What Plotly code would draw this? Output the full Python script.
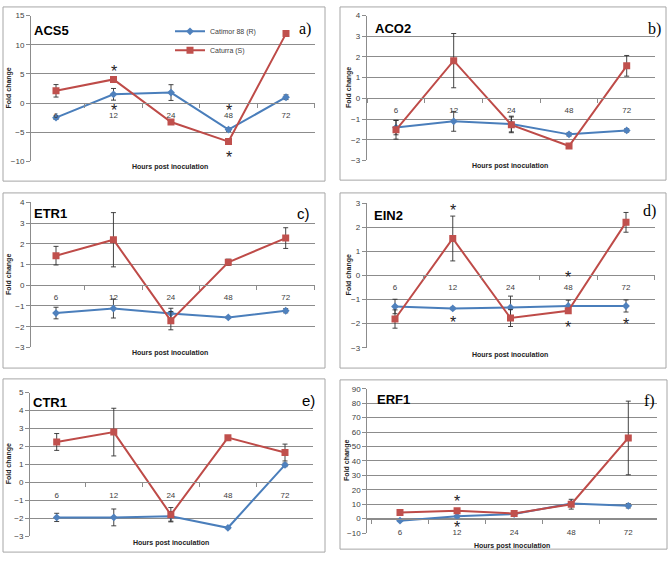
import plotly.graph_objects as go

W, H = 669, 562

hours = ["6", "12", "24", "48", "72"]
genes = ["ACS5", "ACO2", "ETR1", "EIN2", "CTR1", "ERF1"]
panel_letters = ["a)", "b)", "c)", "d)", "e)", "f)"]
series_names = ["Catimor 88 (R)", "Caturra (S)"]

# Catimor 88 (R) - fold change and error
catimor_acs5 = [-2.5, 1.5, 1.8, -4.55, 1.0]
catimor_acs5_err = [0.3, 1.0, 1.35, 0.3, 0.4]
catimor_aco2 = [-1.41, -1.11, -1.24, -1.74, -1.55]
catimor_aco2_err = [0.35, 0.48, 0.38, 0.08, 0.08]
catimor_etr1 = [-1.34, -1.12, -1.36, -1.55, -1.23]
catimor_etr1_err = [0.28, 0.46, 0.25, 0.05, 0.1]
catimor_ein2 = [-1.29, -1.37, -1.33, -1.27, -1.27]
catimor_ein2_err = [0.3, 0.05, 0.47, 0.24, 0.25]
catimor_ctr1 = [-1.96, -1.96, -1.9, -2.54, 0.97]
catimor_ctr1_err = [0.23, 0.47, 0.27, 0.05, 0.1]
catimor_erf1 = [-1.4, 1.6, 3.2, 10.5, 8.9]
catimor_erf1_err = [0.5, 0.5, 0.5, 1.0, 1.5]

# Caturra (S) - fold change and error
caturra_acs5 = [2.1, 4.05, -3.25, -6.6, 11.9]
caturra_acs5_err = [1.07, 0.3, 0.3, 0.3, 0.3]
caturra_aco2 = [-1.52, 1.82, -1.28, -2.3, 1.57]
caturra_aco2_err = [0.45, 1.31, 0.38, 0.1, 0.5]
caturra_etr1 = [1.43, 2.2, -1.71, 1.11, 2.28]
caturra_etr1_err = [0.45, 1.31, 0.44, 0.15, 0.5]
caturra_ein2 = [-1.81, 1.53, -1.77, -1.47, 2.2]
caturra_ein2_err = [0.38, 0.93, 0.35, 0.1, 0.41]
caturra_ctr1 = [2.25, 2.8, -1.81, 2.49, 1.66]
caturra_ctr1_err = [0.47, 1.33, 0.4, 0.1, 0.47]
caturra_erf1 = [4.3, 5.45, 3.6, 10.0, 55.9]
caturra_erf1_err = [0.6, 0.6, 0.5, 3.4, 25.5]

# y-axis ranges and tick steps
y_min = [-10, -3, -3, -3, -3, -10]
y_max = [15, 4, 4, 3, 5, 90]
y_step = [5, 1, 1, 1, 1, 10]

# significance asterisks: (panel index, hour, y value)
sig_panel = [0, 0, 0, 0, 3, 3, 3, 3, 3, 3, 5, 5]
sig_hour = ["12", "12", "48", "48", "12", "12", "48", "48", "72", "72", "12", "12"]
sig_y = [6.2, -0.45, -0.45, -8.4, 2.88, -1.74, 0.1, -1.94, 3.06, -1.84, 15, -2.4]

catimor = [catimor_acs5, catimor_aco2, catimor_etr1, catimor_ein2, catimor_ctr1, catimor_erf1]
catimor_err = [catimor_acs5_err, catimor_aco2_err, catimor_etr1_err, catimor_ein2_err, catimor_ctr1_err, catimor_erf1_err]
caturra = [caturra_acs5, caturra_aco2, caturra_etr1, caturra_ein2, caturra_ctr1, caturra_erf1]
caturra_err = [caturra_acs5_err, caturra_aco2_err, caturra_etr1_err, caturra_ein2_err, caturra_ctr1_err, caturra_erf1_err]

# ---------------- layout geometry (pixels) ----------------
geom = [
    dict(xl=31, xr=315, yt=11.7, yb=160, c0=56, c4=286),
    dict(xl=366.7, xr=655, yt=11.7, yb=159, c0=396, c4=626.7),
    dict(xl=31, xr=315, yt=201.7, yb=349, c0=56, c4=285.7),
    dict(xl=366.7, xr=655, yt=202.3, yb=349.3, c0=395, c4=626),
    dict(xl=30, xr=313, yt=395, yb=540.7, c0=56.7, c4=285),
    dict(xl=367.3, xr=656.7, yt=391, yb=537.7, c0=400, c4=628.3),
]
boxes = [
    (3, 3, 325, 180), (340, 3, 666, 179),
    (3, 192, 325, 370), (340, 192, 666, 370),
    (3, 381, 325, 557), (340, 382, 667, 554),
]
title_pos = [(32, 27), (373, 25), (32, 213), (372, 215), (31, 405), (375, 402)]
letter_pos = [(313, 25), (663, 25), (312, 213), (658, 210), (317, 403), (657, 403)]
letter_serif = [True, True, False, True, False, True]
xtitle_pos = [(170, 166), (510, 165), (170, 355), (510, 357), (171, 548), (512, 551)]
ylabel_x = [9, 349, 9, 349, 9, 347]
xlabel_standoff = [4, 4, 4, 4, 5, 6]

BLUE_LINE = "#4A7EBB"
BLUE_FILL = "#4F81BD"
RED_LINE = "#BE4B48"
RED_FILL = "#C0504D"
GRID = "#8c8c8c"
TXT = "#404040"
SANS = "Liberation Sans"
SERIF = "Liberation Serif"


def fx(px):
    return px / W


def fy(py):
    return 1 - py / H


fig = go.Figure()
annotations = []
shapes = []

for i in range(6):
    g = geom[i]
    k = "" if i == 0 else str(i + 1)
    s = (g["c4"] - g["c0"]) / 4
    lo = (g["xl"] - g["c0"]) / s
    hi = 4 + (g["xr"] - g["c4"]) / s
    yd0, yd1 = fy(g["yb"]), fy(g["yt"])
    zero_pos = yd0 + (0 - y_min[i]) / (y_max[i] - y_min[i]) * (yd1 - yd0)

    fig.add_trace(go.Scatter(
        x=hours, y=catimor[i], name=series_names[0], xaxis="x" + k, yaxis="y" + k,
        mode="lines+markers", showlegend=(i == 0), legendrank=1,
        line=dict(color=BLUE_LINE, width=2),
        marker=dict(symbol="diamond", size=6, color=BLUE_FILL, line=dict(width=0)),
        error_y=dict(type="data", array=catimor_err[i], visible=True,
                     color="#303030", thickness=0.9, width=2.5),
    ))
    fig.add_trace(go.Scatter(
        x=hours, y=caturra[i], name=series_names[1], xaxis="x" + k, yaxis="y" + k,
        mode="lines+markers", showlegend=(i == 0), legendrank=2,
        line=dict(color=RED_LINE, width=2),
        marker=dict(symbol="square", size=7, color=RED_FILL, line=dict(width=0)),
        error_y=dict(type="data", array=caturra_err[i], visible=True,
                     color="#303030", thickness=0.9, width=2.5),
    ))

    fig.layout["xaxis" + k] = dict(
        type="category", categoryorder="array", categoryarray=hours,
        range=[lo, hi], domain=[fx(g["xl"]), fx(g["xr"])],
        anchor="free", position=zero_pos,
        showline=True, linecolor=GRID, linewidth=1,
        ticks="outside", tickson="boundaries", ticklen=4, tickcolor=GRID,
        showgrid=False, zeroline=False,
        tickfont=dict(family=SANS, size=8, color=TXT),
        ticklabelstandoff=xlabel_standoff[i],
        fixedrange=True,
    )
    fig.layout["yaxis" + k] = dict(
        range=[y_min[i], y_max[i]], domain=[yd0, yd1], anchor="x" + k,
        dtick=y_step[i], tick0=0,
        showline=True, linecolor=GRID, linewidth=1,
        ticks="outside", ticklen=4, tickcolor=GRID,
        showgrid=True, gridcolor=GRID, gridwidth=1, zeroline=False,
        tickfont=dict(family=SANS, size=8, color=TXT),
        fixedrange=True,
    )

    x0, y0, x1, y1 = boxes[i]
    shapes.append(dict(type="rect", xref="paper", yref="paper",
                       x0=fx(x0), x1=fx(x1), y0=fy(y1), y1=fy(y0),
                       line=dict(color="#a6a6a6", width=1), layer="below"))

    tx, ty = title_pos[i]
    annotations.append(dict(text="<b>%s</b>" % genes[i], xref="paper", yref="paper",
                            x=fx(tx), y=fy(ty), xanchor="left", yanchor="middle",
                            showarrow=False, font=dict(family=SANS, size=13, color="#000")))
    lx, ly = letter_pos[i]
    annotations.append(dict(text=panel_letters[i], xref="paper", yref="paper",
                            x=fx(lx), y=fy(ly), xanchor="right", yanchor="middle",
                            showarrow=False,
                            font=dict(family=SERIF if letter_serif[i] else SANS,
                                      size=16 if letter_serif[i] else 15, color="#000")))
    hx, hy = xtitle_pos[i]
    annotations.append(dict(text="<b>Hours post inoculation</b>", xref="paper", yref="paper",
                            x=fx(hx), y=fy(hy), xanchor="center", yanchor="middle",
                            showarrow=False, font=dict(family=SANS, size=7, color="#222")))
    annotations.append(dict(text="<b>Fold change</b>", xref="paper", yref="paper",
                            x=fx(ylabel_x[i]), y=fy((g["yt"] + g["yb"]) / 2),
                            xanchor="center", yanchor="middle", textangle=-90,
                            showarrow=False, font=dict(family=SANS, size=7, color="#222")))

for p, hr, yv in zip(sig_panel, sig_hour, sig_y):
    k = "" if p == 0 else str(p + 1)
    annotations.append(dict(text="*", xref="x" + k, yref="y" + k, x=hours.index(hr), y=yv,
                            xanchor="center", yanchor="middle", yshift=-5,
                            showarrow=False, font=dict(family=SANS, size=16, color="#222")))

fig.update_layout(
    width=W, height=H, margin=dict(l=0, r=0, t=0, b=0),
    paper_bgcolor="white", plot_bgcolor="white",
    showlegend=True,
    legend=dict(x=fx(170), y=fy(13), xanchor="left", yanchor="top",
                font=dict(family=SANS, size=7, color=TXT),
                bgcolor="rgba(0,0,0,0)", tracegroupgap=0, itemwidth=30),
    annotations=annotations, shapes=shapes,
)

fig.write_html("out.html", config={"displayModeBar": False},
               post_script="document.body.style.margin='0';")
